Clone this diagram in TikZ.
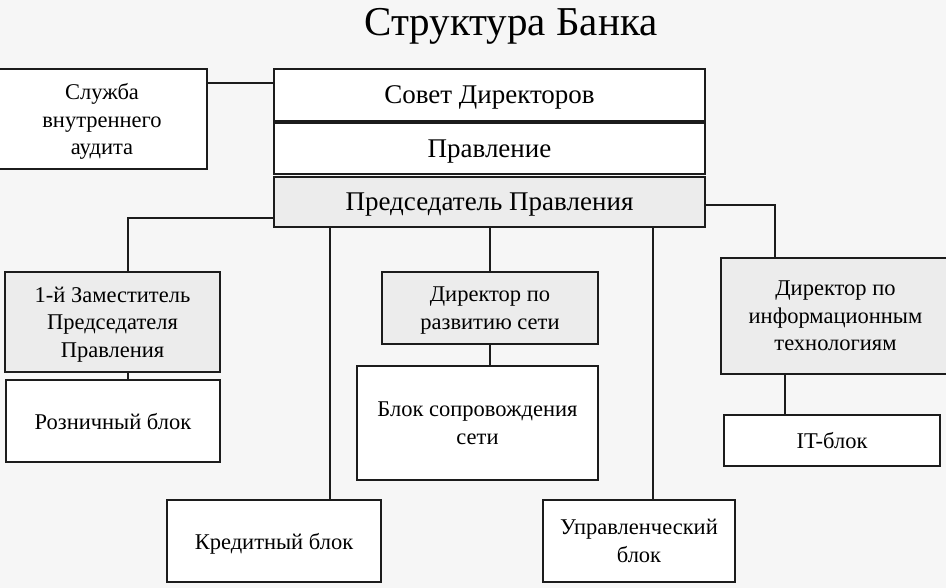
\documentclass[tikz,border=0pt]{standalone}
\usepackage{fontspec}
\setmainfont{Liberation Serif}
\usepackage{tikz}
\usetikzlibrary{positioning,calc}
\definecolor{Ink}{HTML}{1C1C1C}
\definecolor{Paper}{HTML}{F6F6F6}
\definecolor{Shade}{HTML}{ECECEC}
\tikzset{
  unit/.style={rectangle,draw=Ink,line width=1.3pt,fill=white,inner sep=2pt,align=center,
    text depth=0pt,font=\fontsize{22.5}{27.5}\selectfont},
  unitgrey/.style={unit,fill=Shade},
  board/.style={unit,minimum width=431pt,font=\fontsize{27}{30}\selectfont},
  link/.style={draw=Ink,line width=1.3pt},
  heading/.style={font=\fontsize{41}{44}\selectfont,inner sep=0pt}
}

\begin{document}
\begin{tikzpicture}[x=1pt,y=-1pt]
    \fill[Paper] (0,0) rectangle (946,588);
    \useasboundingbox (0,0) rectangle (946,588);
    \node[heading] (title) at (511,26) {Структура Банка};
    % top of the bank
    \node[board,minimum height=52pt] (sovet) at (489.5,95) {Совет Директоров};
    \node[board,minimum height=51pt] (pravl) at (489.5,148.5) {Правление};
    \node[board,fill=Shade,minimum height=50pt] (pred) at (489.5,202) {Председатель Правления};
    \node[unit,minimum width=210pt,minimum height=100pt] (audit) at (102,119) {Служба\\внутреннего\\аудита};
    % directors
    \node[unitgrey,minimum width=215pt,minimum height=100pt] (zam) at (112.5,322) {1-й Заместитель\\Председателя\\Правления};
    \node[unitgrey,minimum width=216pt,minimum height=72pt] (razv) at (490,308) {Директор по\\развитию сети};
    \node[unitgrey,minimum width=229pt,minimum height=116pt] (itdir) at (835.5,316) {Директор по\\информационным\\технологиям};
    % blocks
    \node[unit,minimum width=214pt,minimum height=82pt] (rozn) at (113,421) {Розничный блок};
    \node[unit,minimum width=241pt,minimum height=114pt] (soprov) at (477.5,423) {Блок сопровождения\\сети};
    \node[unit,minimum width=216pt,minimum height=51pt] (itblok) at (832,440.5) {IT-блок};
    \node[unit,minimum width=214pt,minimum height=82pt] (kred) at (274,541) {Кредитный блок};
    \node[unit,minimum width=192pt,minimum height=82pt] (upr) at (639,541) {Управленческий\\блок};
    % connectors
    \draw[link] (audit.east |- 0,83) -- (sovet.west |- 0,83);
    \draw[link] (pred.west |- 0,218) -| (zam.north -| 128,0);
    \draw[link] (zam.south -| 128,0) -- (rozn.north -| 128,0);
    \draw[link] (pred.south -| 330,0) -- (kred.north -| 330,0);
    \draw[link] (pred.south -| razv) -- (razv.north);
    \draw[link] (razv.south) -- (razv.south |- soprov.north);
    \draw[link] (pred.south -| 653,0) -- (upr.north -| 653,0);
    \draw[link] (pred.east |- 0,205) -| (itdir.north -| 775,0);
    \draw[link] (itdir.south -| 785,0) -- (itblok.north -| 785,0);
\end{tikzpicture}
\end{document}
